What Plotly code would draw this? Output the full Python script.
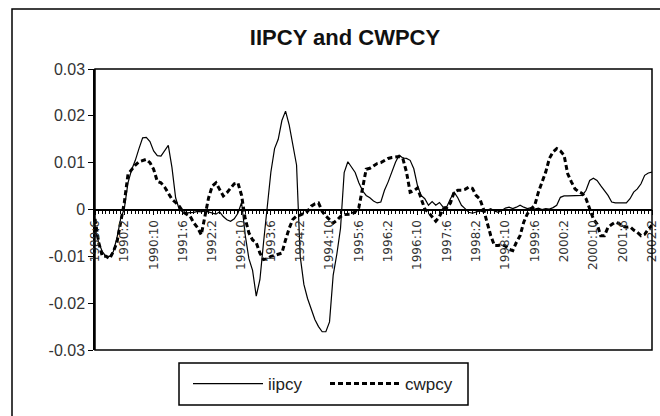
import plotly.graph_objects as go

# ---- data ----
start_year, start_month = 1989, 6
n_months = 153
months = []
y, mth = start_year, start_month
for _ in range(n_months):
    months.append(f"{y}:{mth}")
    mth += 1
    if mth > 12:
        mth = 1
        y += 1

tick_labels = ["1989:6", "1990:2", "1990:10", "1991:6", "1992:2", "1992:10", "1993:6",
               "1994:2", "1994:10", "1995:6", "1996:2", "1996:10", "1997:6", "1998:2",
               "1998:10", "1999:6", "2000:2", "2000:10", "2001:6", "2002:2"]

iipcy = [
    -0.0040, -0.0070, -0.0090, -0.0100, -0.0100, -0.0090, -0.0060, -0.0020, 0.0002, 0.0057,
    0.0085, 0.0105, 0.0130, 0.0153, 0.0154, 0.0145, 0.0125, 0.0115, 0.0114, 0.0125,
    0.0137, 0.0090, 0.0025, 0.0000, -0.0005, -0.0007, -0.0007, -0.0006, -0.0004, -0.0005,
    -0.0003, -0.0005, -0.0008, -0.0010, -0.0005, -0.0015, -0.0022, -0.0025, -0.0020, -0.0008,
    0.0015, -0.0055, -0.0105, -0.0130, -0.0185, -0.0150, -0.0070, 0.0000, 0.0080, 0.0130,
    0.0150, 0.0190, 0.0210, 0.0180, 0.0140, 0.0095, -0.0100, -0.0160, -0.0190, -0.0215,
    -0.0235, -0.0250, -0.0261, -0.0261, -0.0240, -0.0140, -0.0095, -0.0040, 0.0079, 0.0102,
    0.0090, 0.0079, 0.0057, 0.0040, 0.0030, 0.0025, 0.0018, 0.0014, 0.0016, 0.0041,
    0.0059, 0.0080, 0.0101, 0.0116, 0.0110, 0.0109, 0.0105, 0.0087, 0.0051, 0.0030,
    0.0023, 0.0009, 0.0017, 0.0009, 0.0015, 0.0005, 0.0006, 0.0023, 0.0037, 0.0025,
    0.0009, 0.0002, -0.0006, -0.0008, -0.0006, -0.0003, -0.0005, -0.0002, 0.0002, -0.0003,
    -0.0006, -0.0002, 0.0003, 0.0005, 0.0002, 0.0005, 0.0009, 0.0005, 0.0002, 0.0004,
    0.0001, 0.0003, 0.0000, 0.0002, 0.0001, 0.0004, 0.0009, 0.0026, 0.0029, 0.0029,
    0.0029, 0.0029, 0.0030, 0.0030, 0.0041, 0.0062, 0.0067, 0.0062, 0.0051, 0.0040,
    0.0030, 0.0016, 0.0014, 0.0014, 0.0014, 0.0014, 0.0023, 0.0037, 0.0044, 0.0055,
    0.0073, 0.0078, 0.0080,
]

cwpcy = [
    -0.0020, -0.0070, -0.0100, -0.0100, -0.0105, -0.0090, -0.0070, -0.0025, 0.0015, 0.0075,
    0.0086, 0.0095, 0.0102, 0.0105, 0.0107, 0.0100, 0.0086, 0.0060, 0.0057, 0.0048,
    0.0035, 0.0022, 0.0015, 0.0007, -0.0005, -0.0010, -0.0015, -0.0029, -0.0039, -0.0054,
    -0.0015, 0.0025, 0.0050, 0.0057, 0.0043, 0.0029, 0.0036, 0.0046, 0.0055, 0.0057,
    0.0030, -0.0020, -0.0050, -0.0065, -0.0071, -0.0093, -0.0107, -0.0105, -0.0100, -0.0098,
    -0.0095, -0.0093, -0.0065, -0.0040, -0.0021, -0.0014, -0.0012, -0.0008, -0.0004, 0.0007,
    0.0012, 0.0014, -0.0004, -0.0014, -0.0021, -0.0029, -0.0023, -0.0015, -0.0011, -0.0011,
    -0.0010, -0.0005, 0.0004, 0.0045, 0.0086, 0.0088, 0.0093, 0.0098, 0.0100, 0.0105,
    0.0109, 0.0111, 0.0112, 0.0113, 0.0109, 0.0080, 0.0037, 0.0040, 0.0046, 0.0023,
    0.0001, -0.0006, -0.0015, -0.0025, -0.0015, 0.0001, 0.0004, 0.0014, 0.0037, 0.0041,
    0.0041, 0.0043, 0.0048, 0.0045, 0.0030, 0.0023, 0.0001, -0.0030, -0.0056, -0.0077,
    -0.0077, -0.0075, -0.0078, -0.0085, -0.0088, -0.0070, -0.0056, -0.0027, -0.0009, 0.0001,
    0.0009, 0.0037, 0.0059, 0.0080, 0.0109, 0.0123, 0.0130, 0.0125, 0.0116, 0.0076,
    0.0059, 0.0044, 0.0038, 0.0034, 0.0023, 0.0000, -0.0020, -0.0031, -0.0056, -0.0056,
    -0.0038, -0.0032, -0.0027, -0.0030, -0.0036, -0.0038, -0.0037, -0.0044, -0.0049, -0.0056,
    -0.0053, -0.0042, -0.0034,
]

y_ticks = [0.03, 0.02, 0.01, 0.0, -0.01, -0.02, -0.03]
y_tick_text = ["0.03", "0.02", "0.01", "0", "-0.01", "-0.02", "-0.03"]

# ---- figure ----
W, H = 660, 416
ML, MR, MT, MB = 95, 8, 69, 66
PW, PH = W - ML - MR, H - MT - MB

xidx = list(range(len(months)))
tick_pos = [months.index(t) for t in tick_labels]

fig = go.Figure()
fig.add_trace(go.Scatter(x=xidx, y=iipcy, mode="lines", name="iipcy",
                         line=dict(color="black", width=1.2)))
fig.add_trace(go.Scatter(x=xidx, y=cwpcy, mode="lines", name="cwpcy",
                         line=dict(color="black", width=3, dash="5px,3px")))

def px2paper_x(px):
    return (px - ML) / PW

def px2paper_y(py):
    return (H - MB - py) / PH

shapes = [
    # plot-area frame
    dict(type="rect", xref="paper", yref="paper", x0=0, y0=0, x1=1, y1=1,
         line=dict(color="black", width=1.5), layer="above"),
    # outer chart frame
    dict(type="rect", xref="paper", yref="paper",
         x0=px2paper_x(12), x1=px2paper_x(670), y0=px2paper_y(440), y1=px2paper_y(9),
         line=dict(color="black", width=1.5)),
    # legend frame
    dict(type="rect", xref="paper", yref="paper",
         x0=px2paper_x(179), x1=px2paper_x(468), y0=px2paper_y(405), y1=px2paper_y(363),
         line=dict(color="black", width=1.5), layer="above"),
]

fig.update_layout(
    width=W, height=H,
    margin=dict(l=ML, r=MR, t=MT, b=MB, autoexpand=False),
    paper_bgcolor="white", plot_bgcolor="white",
    title=dict(text="<b>IIPCY and CWPCY</b>", x=345 / W, xanchor="center",
               y=1 - 37 / H, yanchor="middle",
               font=dict(family="Liberation Sans, Arial", size=22, color="#111")),
    xaxis=dict(range=[0, len(months) - 1], anchor="free", position=0.5,
               showgrid=False, zeroline=False, showline=True, linecolor="black", linewidth=1.5,
               tickmode="array", tickvals=tick_pos, ticktext=tick_labels,
               tickangle=-90, ticks="outside", ticklen=5, tickcolor="black",
               tickfont=dict(family="DejaVu Sans", size=12, color="#333"),
               minor=dict(tick0=0, dtick=1, ticks="outside", ticklen=4, tickcolor="black")),
    yaxis=dict(range=[-0.03, 0.03], tickmode="array", tickvals=y_ticks, ticktext=y_tick_text,
               showgrid=False, zeroline=False, showline=True, linecolor="black", linewidth=1.5,
               ticks="outside", ticklen=5, tickcolor="black",
               tickfont=dict(family="Liberation Sans, Arial", size=16, color="#333")),
    legend=dict(orientation="h", x=px2paper_x(188), xanchor="left",
                y=px2paper_y(384), yanchor="middle",
                borderwidth=0, bgcolor="rgba(0,0,0,0)",
                font=dict(family="Liberation Sans, Arial", size=17, color="#222"),
                itemwidth=70, entrywidth=52, entrywidthmode="pixels"),
    shapes=shapes,
    showlegend=True,
)

fig.write_html("out.html", config={"displayModeBar": False},
               post_script="document.body.style.margin='0px';")
